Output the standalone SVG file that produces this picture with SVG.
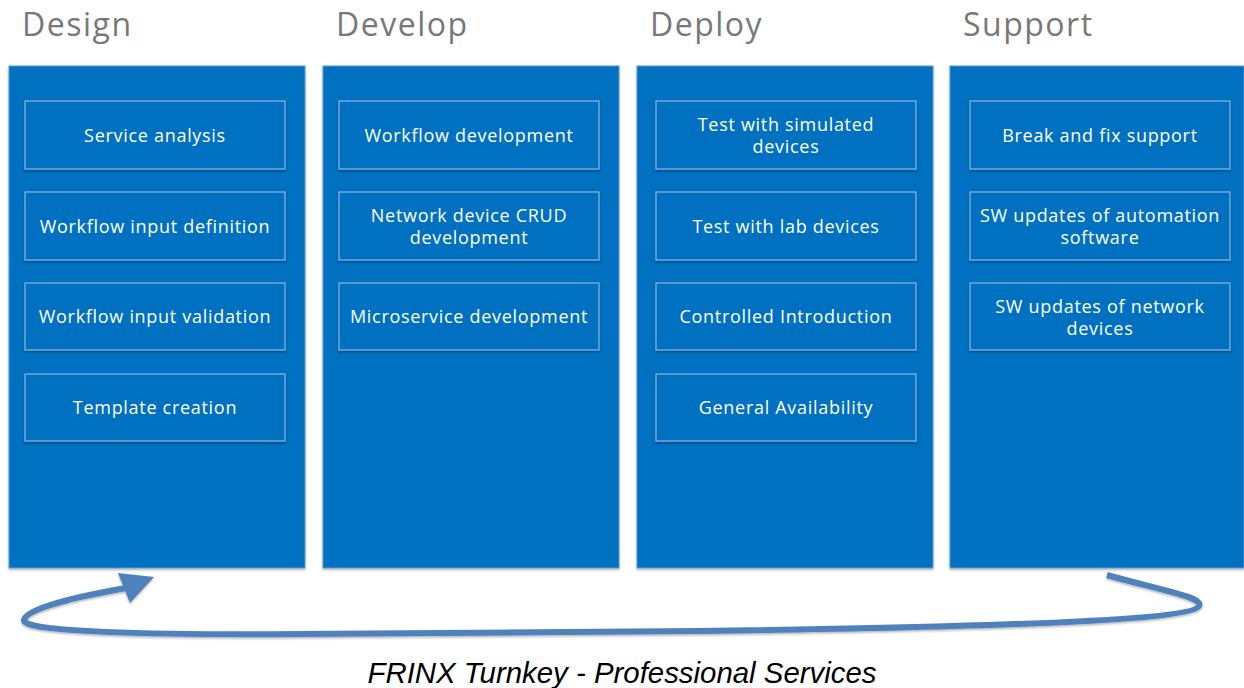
<svg xmlns="http://www.w3.org/2000/svg" width="1244" height="688" viewBox="0 0 1244 688">
<defs>
<style>
.hdr{font-family:"Open Sans","Liberation Sans",sans-serif;font-size:32px;letter-spacing:1.5px;fill:#787878}
.col{fill:#0070C0;stroke:#5A9BD5;stroke-width:1}
.box{fill:#0070C0;stroke:#8DB3E2;stroke-width:1.2}
.bt{font-family:"Open Sans","Liberation Sans",sans-serif;font-size:18px;letter-spacing:0.7px;fill:#fff;text-anchor:middle}
.cap{font-family:"Liberation Sans",Arial,sans-serif;font-size:29.4px;font-style:italic;fill:#000;text-anchor:middle}
.loop{fill:none;stroke:#4F81BD;stroke-width:6}
</style>
<filter id="sh" x="-5%" y="-5%" width="110%" height="115%"><feDropShadow dx="0" dy="1.5" stdDeviation="1" flood-color="#000" flood-opacity="0.3"/></filter>
</defs>
<rect width="1244" height="688" fill="#fff"/>
<g id="design">
<text class="hdr" x="22" y="36">Design</text>
<rect class="col" x="9" y="66" width="296" height="502" filter="url(#sh)"/>
<g id="d1"><rect class="box" x="25" y="101" width="260" height="68" filter="url(#sh)"/><text class="bt" x="155" y="142">Service analysis</text></g>
<g id="d2"><rect class="box" x="25" y="192" width="260" height="68" filter="url(#sh)"/><text class="bt" x="155" y="233">Workflow input definition</text></g>
<g id="d3"><rect class="box" x="25" y="283" width="260" height="67" filter="url(#sh)"/><text class="bt" x="155" y="323">Workflow input validation</text></g>
<g id="d4"><rect class="box" x="25" y="374" width="260" height="67" filter="url(#sh)"/><text class="bt" x="155" y="414">Template creation</text></g>
</g>
<g id="develop">
<text class="hdr" x="336" y="36">Develop</text>
<rect class="col" x="323" y="66" width="296" height="502" filter="url(#sh)"/>
<g id="v1"><rect class="box" x="339" y="101" width="260" height="68" filter="url(#sh)"/><text class="bt" x="469" y="142">Workflow development</text></g>
<g id="v2"><rect class="box" x="339" y="192" width="260" height="68" filter="url(#sh)"/><text class="bt" x="469" y="222">Network device CRUD</text><text class="bt" x="469" y="244">development</text></g>
<g id="v3"><rect class="box" x="339" y="283" width="260" height="67" filter="url(#sh)"/><text class="bt" x="469" y="323">Microservice development</text></g>
</g>
<g id="deploy">
<text class="hdr" x="650" y="36">Deploy</text>
<rect class="col" x="637" y="66" width="296" height="502" filter="url(#sh)"/>
<g id="p1"><rect class="box" x="656" y="101" width="260" height="68" filter="url(#sh)"/><text class="bt" x="786" y="131">Test with simulated</text><text class="bt" x="786" y="153">devices</text></g>
<g id="p2"><rect class="box" x="656" y="192" width="260" height="68" filter="url(#sh)"/><text class="bt" x="786" y="233">Test with lab devices</text></g>
<g id="p3"><rect class="box" x="656" y="283" width="260" height="67" filter="url(#sh)"/><text class="bt" x="786" y="323">Controlled Introduction</text></g>
<g id="p4"><rect class="box" x="656" y="374" width="260" height="67" filter="url(#sh)"/><text class="bt" x="786" y="414">General Availability</text></g>
</g>
<g id="support">
<text class="hdr" x="963" y="36">Support</text>
<rect class="col" x="950" y="66" width="294" height="502" filter="url(#sh)"/>
<g id="s1"><rect class="box" x="970" y="101" width="260" height="68" filter="url(#sh)"/><text class="bt" x="1100" y="142">Break and fix support</text></g>
<g id="s2"><rect class="box" x="970" y="192" width="260" height="68" filter="url(#sh)"/><text class="bt" x="1100" y="222">SW updates of automation</text><text class="bt" x="1100" y="244">software</text></g>
<g id="s3"><rect class="box" x="970" y="283" width="260" height="67" filter="url(#sh)"/><text class="bt" x="1100" y="313">SW updates of network</text><text class="bt" x="1100" y="335">devices</text></g>
</g>
<g id="connectors" filter="url(#sh)">
<path class="loop" d="M1107,575 C1160,590 1204,597 1199,606 C1192,620 1000,627 700,631 L300,634 C150,635 22,632 24,620 C26,608 80,596 126,588"/>
<polygon points="118,573 154,577 130,603" fill="#4F81BD"/>
</g>
<text class="cap" x="622" y="683">FRINX Turnkey - Professional Services</text>
</svg>
